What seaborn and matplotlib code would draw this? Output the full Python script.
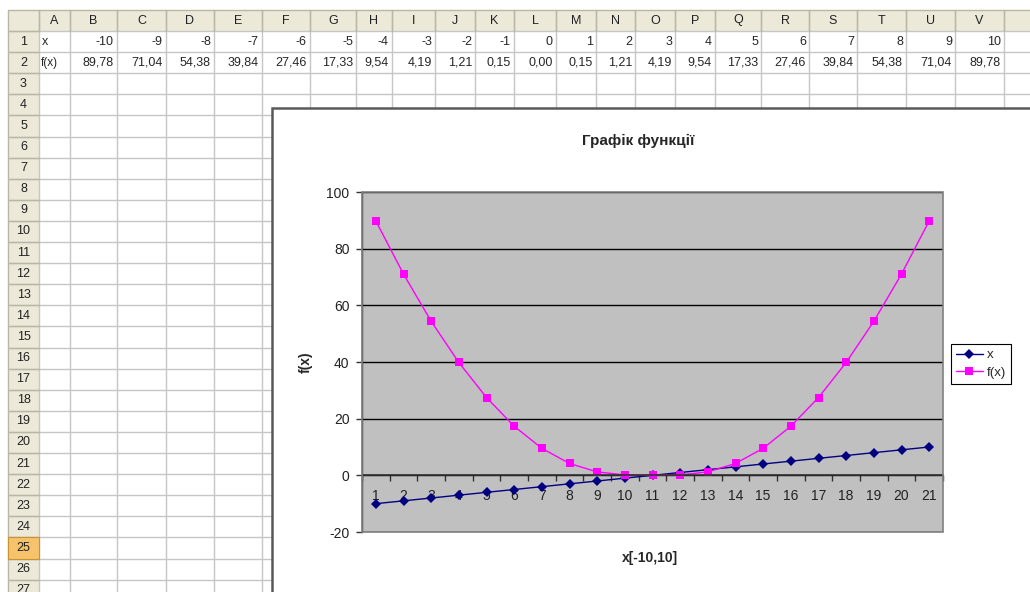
import numpy as np
import pandas as pd
import matplotlib
matplotlib.use("Agg")
import matplotlib.pyplot as plt
import seaborn as sns
from matplotlib.patches import Rectangle

# ---------------- data ----------------
x_values = [-10, -9, -8, -7, -6, -5, -4, -3, -2, -1, 0, 1, 2, 3, 4, 5, 6, 7, 8, 9, 10]
fx_values = [89.78, 71.04, 54.38, 39.84, 27.46, 17.33, 9.54, 4.19, 1.21, 0.15, 0.00,
             0.15, 1.21, 4.19, 9.54, 17.33, 27.46, 39.84, 54.38, 71.04, 89.78]
categories = list(range(1, 22))
series_names = ["x", "f(x)"]
series_colors = ["#000080", "#FF00FF"]
series_markers = ["D", "s"]
y_ticks = [-20, 0, 20, 40, 60, 80, 100]
title_text = "Графік функції"
x_label = "x[-10,10]"
y_label = "f(x)"
col_letters = list("ABCDEFGHIJKLMNOPQRSTUV")
row_count = 27
selected_row = 25

# ---------------- style ----------------
sns.set_style("white")
plt.rcParams["font.family"] = ["Liberation Sans", "DejaVu Sans"]
plt.rcParams["axes.unicode_minus"] = False

W, H = 1030, 592
fig = plt.figure(figsize=(W / 100, H / 100), dpi=100)

# ---------------- spreadsheet background ----------------
sheet = fig.add_axes([0, 0, 1, 1], zorder=0)
sheet.set_xlim(0, W)
sheet.set_ylim(H, 0)
sheet.axis("off")

hdr_top, hdr_bot = 10, 31
row_h = 21.1
rowhdr_left, rowhdr_right = 8, 39
col_edges = [39, 70, 117, 166, 214, 262, 310, 356, 392, 435, 475, 514, 556, 596,
             635, 675, 715, 761, 809, 857, 906, 955, 1004, 1060]
hdr_fill = "#ECE9D8"
hdr_line = "#B9B6A6"
grid_col = "#C6C6C6"
fs_sheet = 9

# column header band
sheet.add_patch(Rectangle((rowhdr_left, hdr_top), W - rowhdr_left, hdr_bot - hdr_top,
                          fc=hdr_fill, ec="none", zorder=1))
# row header band
sheet.add_patch(Rectangle((rowhdr_left, hdr_top), rowhdr_right - rowhdr_left, H - hdr_top,
                          fc=hdr_fill, ec="none", zorder=1))
# selected row header
sel_top = hdr_bot + (selected_row - 1) * row_h
sheet.add_patch(Rectangle((rowhdr_left, sel_top), rowhdr_right - rowhdr_left, row_h,
                          fc="#F6C26B", ec="#C89432", lw=0.8, zorder=2))

# grid lines
for xe in col_edges:
    sheet.plot([xe, xe], [hdr_top, H], color=grid_col, lw=1, zorder=1.5)
    sheet.plot([xe, xe], [hdr_top, hdr_bot], color=hdr_line, lw=1, zorder=1.6)
for r in range(row_count + 1):
    yy = hdr_bot + r * row_h
    sheet.plot([rowhdr_left, W], [yy, yy], color=grid_col, lw=1, zorder=1.5)
    sheet.plot([rowhdr_left, rowhdr_right], [yy, yy], color=hdr_line, lw=1, zorder=1.6)
sheet.plot([rowhdr_left, W], [hdr_top, hdr_top], color=hdr_line, lw=1, zorder=1.6)
sheet.plot([rowhdr_left, rowhdr_left], [hdr_top, H], color=hdr_line, lw=1, zorder=1.6)

# column letters
for i, letter in enumerate(col_letters):
    cx = (col_edges[i] + col_edges[i + 1]) / 2
    sheet.text(cx, (hdr_top + hdr_bot) / 2, letter, ha="center", va="center",
               fontsize=fs_sheet, color="#222", zorder=3)
# row numbers
for r in range(1, row_count + 1):
    cy = hdr_bot + (r - 0.5) * row_h
    sheet.text((rowhdr_left + rowhdr_right) / 2, cy, str(r), ha="center", va="center",
               fontsize=fs_sheet, color="#222", zorder=3)

# cell contents
row1_y = hdr_bot + 0.5 * row_h
row2_y = hdr_bot + 1.5 * row_h
sheet.text(col_edges[0] + 3, row1_y, series_names[0], ha="left", va="center",
           fontsize=fs_sheet, zorder=3)
sheet.text(col_edges[0] + 2, row2_y, series_names[1], ha="left", va="center",
           fontsize=fs_sheet - 0.5, zorder=3)
for i, (xv, fv) in enumerate(zip(x_values, fx_values)):
    right = col_edges[i + 2] - 3
    sheet.text(right, row1_y, f"{xv}", ha="right", va="center", fontsize=fs_sheet, zorder=3)
    sheet.text(right, row2_y, f"{fv:.2f}".replace(".", ","), ha="right", va="center",
               fontsize=fs_sheet, zorder=3)

# chart area (white box)
sheet.add_patch(Rectangle((272, 108), 900, 600, fc="white", ec="#5A5A5A", lw=1.8, zorder=10))

# ---------------- chart ----------------
pl, pr, pt, pb = 362, 943, 192, 532
ax = fig.add_axes([pl / W, (H - pb) / H, (pr - pl) / W, (pb - pt) / H], zorder=1)
ax.set_facecolor("#C0C0C0")

df = pd.DataFrame({
    "category": categories * 2,
    "value": x_values + fx_values,
    "series": [series_names[0]] * len(x_values) + [series_names[1]] * len(fx_values),
})
sns.lineplot(data=df, x="category", y="value", hue="series", style="series",
             hue_order=series_names, style_order=series_names,
             palette=dict(zip(series_names, series_colors)),
             markers=dict(zip(series_names, series_markers)), dashes=False,
             markersize=5.5, markeredgewidth=0, linewidth=1.0, sort=False,
             legend=False, ax=ax)

ax.set_xlim(0.5, len(categories) + 0.5)
ax.set_ylim(y_ticks[0], y_ticks[-1])
ax.set_yticks(y_ticks)
ax.set_xticks(categories)
ax.set_xticklabels([str(c) for c in categories])
ax.set_xticks(np.arange(0.5, len(categories) + 1, 1), minor=True)

ax.grid(axis="y", color="black", lw=1)
ax.grid(axis="x", visible=False)
ax.set_axisbelow(True)

for s in ["top", "right"]:
    ax.spines[s].set_visible(False)
ax.spines["left"].set_color("#333333")
ax.spines["left"].set_linewidth(1.0)
ax.spines["bottom"].set_position(("data", 0))
ax.spines["bottom"].set_color("#333333")
ax.spines["bottom"].set_linewidth(1.2)
ax.add_patch(Rectangle((0, 0), 1, 1, transform=ax.transAxes, fill=False,
                       ec="#808080", lw=1.2, clip_on=False, zorder=3))

ax.tick_params(axis="x", which="major", length=0, pad=10, labelsize=10, labelcolor="#222")
ax.tick_params(axis="x", which="minor", length=4, width=1, direction="out", color="#333",
               bottom=True)
ax.tick_params(axis="y", which="major", length=4, width=1, direction="out", color="#333",
               pad=5, labelsize=10, labelcolor="#222", left=True)

ax.set_title(title_text, x=(638 - pl) / (pr - pl), y=(pb - 141) / (pb - pt), pad=0,
             va="center", fontsize=11, fontweight="bold")
ax.set_xlabel(x_label, fontsize=10, fontweight="bold", va="center")
ax.xaxis.set_label_coords((650 - pl) / (pr - pl), (pb - 558) / (pb - pt))
ax.set_ylabel(y_label, fontsize=10, fontweight="bold", va="center")
ax.yaxis.set_label_coords((306 - pl) / (pr - pl), 0.5)

leg = ax.legend(handles=ax.lines[:2], labels=series_names, loc="center left",
                bbox_to_anchor=((951 - pl) / (pr - pl), (pb - 364) / (pb - pt)),
                frameon=True, fancybox=False, edgecolor="black", framealpha=1,
                facecolor="white", fontsize=9.5, handlelength=2.0, handletextpad=0.3,
                borderpad=0.4, labelspacing=0.4, borderaxespad=0)
leg.get_frame().set_linewidth(0.8)

fig.savefig("out.png", dpi=100)
